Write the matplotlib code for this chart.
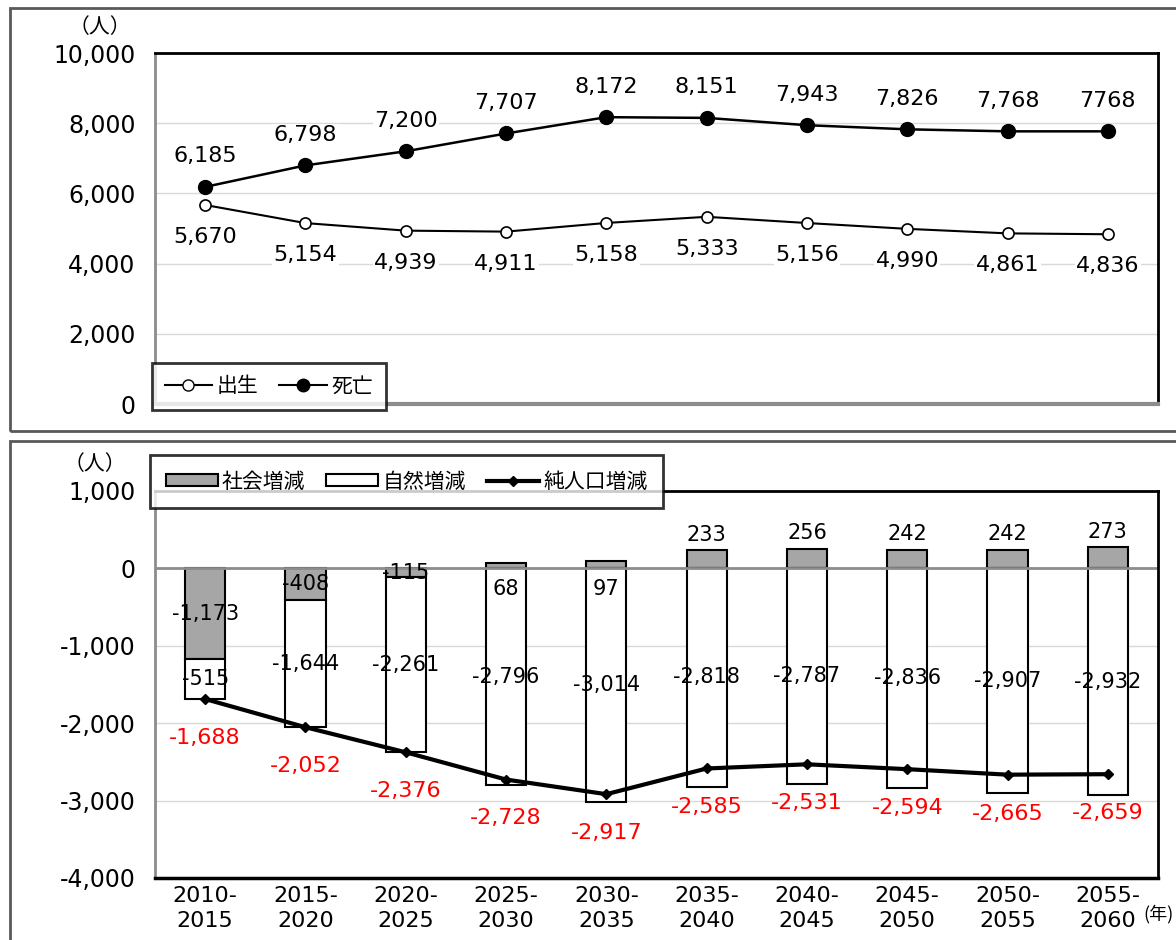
import matplotlib
matplotlib.use("Agg")
import matplotlib.pyplot as plt
from matplotlib.lines import Line2D
from matplotlib.patches import Rectangle, Patch

plt.rcParams['font.family'] = ['DejaVu Sans', 'Noto Sans CJK JP']
plt.rcParams['axes.unicode_minus'] = False
CJK = ['Noto Sans CJK JP', 'DejaVu Sans']

# ---------------- data ----------------
periods = ["2010-\n2015", "2015-\n2020", "2020-\n2025", "2025-\n2030", "2030-\n2035",
           "2035-\n2040", "2040-\n2045", "2045-\n2050", "2050-\n2055", "2055-\n2060"]
births = [5670, 5154, 4939, 4911, 5158, 5333, 5156, 4990, 4861, 4836]
deaths = [6185, 6798, 7200, 7707, 8172, 8151, 7943, 7826, 7768, 7768]
death_labels = ["6,185", "6,798", "7,200", "7,707", "8,172", "8,151", "7,943", "7,826", "7,768", "7768"]
social = [-1173, -408, -115, 68, 97, 233, 256, 242, 242, 273]
natural = [-515, -1644, -2261, -2796, -3014, -2818, -2787, -2836, -2907, -2932]
net = [-1688, -2052, -2376, -2728, -2917, -2585, -2531, -2594, -2665, -2659]
top_ticks = [0, 2000, 4000, 6000, 8000, 10000]
bot_ticks = [-4000, -3000, -2000, -1000, 0, 1000]

W, H = 1176, 940
fig = plt.figure(figsize=(W / 100, H / 100), dpi=100)

def fx(px):
    return px / W

def fy(py):
    return 1 - py / H

GRID = '#d9d9d9'
AXG = '#8c8c8c'

# outer frames
fig.add_artist(Rectangle((fx(10), fy(431)), 1.0, fy(8) - fy(431), transform=fig.transFigure,
                         fill=False, edgecolor='#595959', lw=2, clip_on=False))
fig.add_artist(Rectangle((fx(10), -0.02), 1.0, fy(441) + 0.02, transform=fig.transFigure,
                         fill=False, edgecolor='#595959', lw=2, clip_on=False))

def style_axes(ax):
    for s in ['top', 'right']:
        ax.spines[s].set_color('black')
        ax.spines[s].set_linewidth(2)
    ax.tick_params(length=0, labelsize=17, pad=14)

x = list(range(len(periods)))

# ---------------- top chart ----------------
ax1 = fig.add_axes([fx(155), fy(404), fx(1158) - fx(155), fy(53) - fy(404)])
ax1.set_xlim(-0.5, 9.5)
ax1.set_ylim(0, 10000)
ax1.set_yticks(top_ticks)
ax1.set_yticklabels([f"{t:,}" for t in top_ticks])
ax1.set_xticks([])
ax1.grid(axis='y', color=GRID, lw=1)
ax1.set_axisbelow(True)
style_axes(ax1)
ax1.spines['left'].set_color(AXG)
ax1.spines['left'].set_linewidth(2)
ax1.spines['bottom'].set_color(AXG)
ax1.spines['bottom'].set_linewidth(3)

ax1.plot(x, births, color='black', lw=1.5, marker='o', ms=8, mfc='white', mec='black', mew=1.2, zorder=3)
ax1.plot(x, deaths, color='black', lw=1.8, marker='o', ms=10, mfc='black', mec='black', zorder=3)
for xi, v in zip(x, births):
    ax1.annotate(f"{v:,}", (xi, v), xytext=(0, -23), textcoords='offset points',
                 ha='center', va='center', fontsize=16,
                 bbox=dict(facecolor='white', edgecolor='none', pad=1), zorder=4)
for xi, v, lab in zip(x, deaths, death_labels):
    ax1.annotate(lab, (xi, v), xytext=(0, 22), textcoords='offset points',
                 ha='center', va='center', fontsize=16,
                 bbox=dict(facecolor='white', edgecolor='none', pad=1), zorder=4)

h1 = [Line2D([], [], color='black', lw=1.5, marker='o', ms=8, mfc='white', mec='black'),
      Line2D([], [], color='black', lw=1.5, marker='o', ms=9, mfc='black', mec='black')]
leg1 = fig.legend(h1, ["出生", "死亡"], loc='upper left', bbox_to_anchor=(fx(152), fy(363)),
                  ncol=2, prop={'family': CJK, 'size': 15}, frameon=True, fancybox=False,
                  edgecolor='black', borderaxespad=0, handlelength=2.3, handletextpad=0.2,
                  columnspacing=1.0, borderpad=0.6)
leg1.get_frame().set_linewidth(2)

fig.text(fx(100), fy(27), "（人）", ha='center', va='center', fontsize=15, family=CJK)

# ---------------- bottom chart ----------------
ax2 = fig.add_axes([fx(155), fy(878), fx(1158) - fx(155), fy(491) - fy(878)])
ax2.set_xlim(-0.5, 9.5)
ax2.set_ylim(-4000, 1000)
ax2.set_yticks(bot_ticks)
ax2.set_yticklabels([f"{t:,}" for t in bot_ticks])
ax2.set_xticks(x)
ax2.grid(axis='y', color=GRID, lw=1)
ax2.set_axisbelow(True)
style_axes(ax2)
ax2.set_xticklabels(periods, fontsize=16, linespacing=1.3)
ax2.tick_params(axis='x', pad=6)
ax2.spines['left'].set_color(AXG)
ax2.spines['left'].set_linewidth(2)
ax2.spines['bottom'].set_color('black')
ax2.spines['bottom'].set_linewidth(2.5)
ax2.axhline(0, color=AXG, lw=2, zorder=2.5)

bw = 0.4
ax2.bar(x, social, width=bw, color='#a6a6a6', edgecolor='black', lw=1.5, zorder=2)
nat_bottom = [s if s < 0 else 0 for s in social]
ax2.bar(x, natural, width=bw, bottom=nat_bottom, color='white', edgecolor='black', lw=1.5, zorder=2)
ax2.plot(x, net, color='black', lw=3, marker='D', ms=5, zorder=4)

for xi, s in zip(x, social):
    if s < 0:
        ax2.text(xi, s / 2, f"{s:,}", ha='center', va='center', fontsize=15, zorder=5)
    elif s < 150:
        ax2.annotate(f"{s:,}", (xi, 0), xytext=(0, -15), textcoords='offset points',
                     ha='center', va='center', fontsize=15, zorder=5)
    else:
        ax2.annotate(f"{s:,}", (xi, s), xytext=(0, 4), textcoords='offset points',
                     ha='center', va='bottom', fontsize=15, zorder=5)
for xi, b, n in zip(x, nat_bottom, natural):
    ax2.text(xi, b + n / 2, f"{n:,}", ha='center', va='center', fontsize=15, zorder=5)
for xi, v in zip(x, net):
    ax2.annotate(f"{v:,}", (xi, v), xytext=(0, -28), textcoords='offset points',
                 ha='center', va='center', fontsize=16, color='#ff0000', zorder=5)

h2 = [Patch(facecolor='#a6a6a6', edgecolor='black', lw=1.5),
      Patch(facecolor='white', edgecolor='black', lw=1.5),
      Line2D([], [], color='black', lw=3, marker='D', ms=5)]
leg2 = fig.legend(h2, ["社会増減", "自然増減", "純人口増減"], loc='upper left',
                  bbox_to_anchor=(fx(150), fy(455)), ncol=3, prop={'family': CJK, 'size': 15},
                  frameon=True, fancybox=False, edgecolor='black', borderaxespad=0,
                  handlelength=2.5, handleheight=0.5, handletextpad=0.2, columnspacing=1.0,
                  borderpad=0.75)
leg2.get_frame().set_linewidth(2)

fig.text(fx(95), fy(464), "（人）", ha='center', va='center', fontsize=15, family=CJK)
fig.text(fx(1174), fy(914), "(年)", ha='right', va='center', fontsize=13, family=CJK)

fig.savefig("out.png", dpi=100)
